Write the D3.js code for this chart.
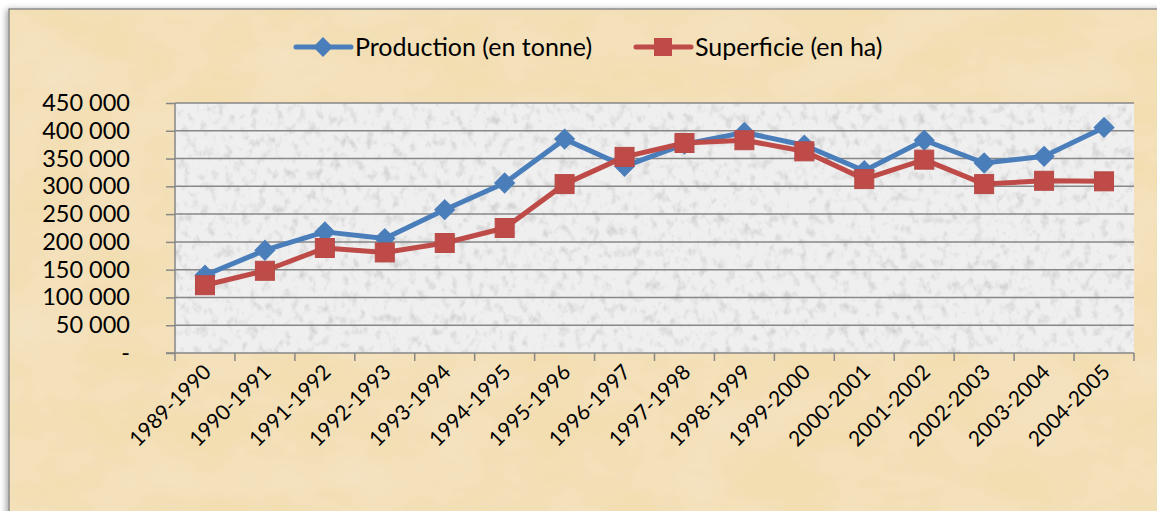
<!DOCTYPE html>
<html>
<head>
<meta charset="utf-8">
<script src="https://cdn.jsdelivr.net/npm/d3@7"></script>
<style>
  body { margin: 0; background: #ffffff; }
  text { font-family: Lato, "Open Sans", sans-serif; fill: #000; }
</style>
</head>
<body>
<div class="container"></div>
<script>
// chart data
var campagnes = ["1989-1990", "1990-1991", "1991-1992", "1992-1993", "1993-1994",
  "1994-1995", "1995-1996", "1996-1997", "1997-1998", "1998-1999", "1999-2000",
  "2000-2001", "2001-2002", "2002-2003", "2003-2004", "2004-2005"];
var production = [140000, 185000, 218000, 206000, 258000, 306000, 385000, 336000,
  376000, 397000, 374000, 328000, 383000, 342000, 354000, 406000];
var superficie = [122000, 148000, 189000, 181000, 198000, 225000, 304000, 353000,
  378000, 383000, 363000, 313000, 348000, 304000, 310000, 309000];
var yTicks = [0, 50000, 100000, 150000, 200000, 250000, 300000, 350000, 400000, 450000];
var seriesNames = ["Production (en tonne)", "Superficie (en ha)"];

var svgWidth = 1157;
var svgHeight = 511;

var margin = { top: 103, right: 23, bottom: 158, left: 175 };
var width = svgWidth - margin.left - margin.right;
var height = svgHeight - margin.top - margin.bottom;

var blue = "#4a7ebb";
var red = "#be4b48";

var svg = d3.select(".container")
  .append("svg")
  .attr("width", svgWidth)
  .attr("height", svgHeight);

// textures
var defs = svg.append("defs");

var paper = defs.append("filter").attr("id", "paper")
  .attr("x", 0).attr("y", 0).attr("width", "100%").attr("height", "100%");
paper.append("feTurbulence").attr("type", "fractalNoise")
  .attr("baseFrequency", "0.012 0.02").attr("numOctaves", 4).attr("seed", 3).attr("result", "n");
paper.append("feColorMatrix").attr("in", "n").attr("type", "matrix")
  .attr("values", "0 0 0 0 0.91  0 0 0 0 0.78  0 0 0 0 0.58  1.1 0 0 0 -0.3").attr("result", "c");
paper.append("feComposite").attr("in", "c").attr("in2", "SourceGraphic").attr("operator", "atop");

var grain = defs.append("filter").attr("id", "grain")
  .attr("x", 0).attr("y", 0).attr("width", "100%").attr("height", "100%");
grain.append("feTurbulence").attr("type", "fractalNoise")
  .attr("baseFrequency", "0.12 0.09").attr("numOctaves", 3).attr("seed", 7).attr("result", "n");
grain.append("feColorMatrix").attr("in", "n").attr("type", "matrix")
  .attr("values", "0 0 0 0 0.6  0 0 0 0 0.6  0 0 0 0 0.6  -2.2 0 0 0 1.1").attr("result", "c");
grain.append("feComposite").attr("in", "c").attr("in2", "SourceGraphic").attr("operator", "atop");

var shadow = defs.append("filter").attr("id", "shadow")
  .attr("x", "-5%").attr("y", "-5%").attr("width", "110%").attr("height", "110%");
shadow.append("feDropShadow").attr("dx", -2).attr("dy", 1).attr("stdDeviation", 3)
  .attr("flood-color", "#000").attr("flood-opacity", 0.35);

// chart frame (parchment)
svg.append("rect")
  .attr("x", 9).attr("y", 9)
  .attr("width", svgWidth + 20).attr("height", svgHeight + 20)
  .attr("fill", "#f3deb1")
  .attr("stroke", "#8c8c8c")
  .attr("stroke-width", 1.5)
  .attr("filter", "url(#shadow)");
svg.append("rect")
  .attr("x", 10).attr("y", 10)
  .attr("width", svgWidth).attr("height", svgHeight)
  .attr("fill", "#f3deb1")
  .attr("filter", "url(#paper)");

var chartGroup = svg.append("g")
  .attr("transform", `translate(${margin.left}, ${margin.top})`);

// plot area (gray grain)
chartGroup.append("rect")
  .attr("width", width).attr("height", height)
  .attr("fill", "#efefef")
  .attr("filter", "url(#grain)");

// scales
var xBand = d3.scaleBand().domain(campagnes).range([0, width]).padding(0);
var xScale = d => xBand(d) + xBand.bandwidth() / 2;

var yLinearScale = d3.scaleLinear()
  .domain([0, 450000])
  .range([height, 0]);

var fr = d3.formatLocale({ decimal: ",", thousands: " ", grouping: [3], currency: ["", " €"] });
var fmt = fr.format(",");

// gridlines
chartGroup.append("g")
  .selectAll("line")
  .data(yTicks.slice(1))
  .enter()
  .append("line")
  .attr("x1", 0).attr("x2", width)
  .attr("y1", d => yLinearScale(d)).attr("y2", d => yLinearScale(d))
  .attr("stroke", "#878787")
  .attr("stroke-width", 1.5);

// y axis
var leftAxis = d3.axisLeft(yLinearScale)
  .tickValues(yTicks)
  .tickSize(9)
  .tickPadding(36)
  .tickFormat(d => d === 0 ? "-" : fmt(d));

var yAxis = chartGroup.append("g").call(leftAxis);
yAxis.select(".domain").attr("stroke", "#878787").attr("stroke-width", 1.5).attr("d", `M0,0V${height}`);
yAxis.selectAll(".tick line").attr("stroke", "#878787").attr("stroke-width", 1.5);
yAxis.selectAll(".tick text")
  .style("font-size", "23.5px")
  .style("font-family", "Lato, sans-serif")
  .attr("fill", "#000");

// x axis (ticks between categories)
var edges = campagnes.map(c => xBand(c)).concat([width]);
var xAxis = chartGroup.append("g")
  .attr("transform", `translate(0, ${height})`);
xAxis.append("line")
  .attr("x1", -9).attr("x2", width)
  .attr("stroke", "#878787").attr("stroke-width", 1.5);
xAxis.selectAll("line.tk")
  .data(edges)
  .enter()
  .append("line")
  .attr("class", "tk")
  .attr("x1", d => d).attr("x2", d => d)
  .attr("y1", 0).attr("y2", 8)
  .attr("stroke", "#878787").attr("stroke-width", 1.5);
xAxis.selectAll("text")
  .data(campagnes)
  .enter()
  .append("text")
  .attr("transform", d => `translate(${xScale(d) - 3}, 10) rotate(-45)`)
  .attr("text-anchor", "end")
  .attr("dy", "0.7em")
  .style("font-size", "21px")
  .text(d => d);

// lines
var line = d3.line()
  .x((d, i) => xScale(campagnes[i]))
  .y(d => yLinearScale(d));

chartGroup.append("path")
  .datum(production)
  .attr("fill", "none")
  .attr("stroke", blue)
  .attr("stroke-width", 5)
  .attr("stroke-linejoin", "round")
  .attr("d", line);

chartGroup.selectAll("path.diamond")
  .data(production)
  .enter()
  .append("path")
  .attr("class", "diamond")
  .attr("d", d3.symbol().type(d3.symbolDiamond2).size(290))
  .attr("transform", (d, i) => `translate(${xScale(campagnes[i])}, ${yLinearScale(d)})`)
  .attr("fill", blue);

chartGroup.append("path")
  .datum(superficie)
  .attr("fill", "none")
  .attr("stroke", red)
  .attr("stroke-width", 5)
  .attr("stroke-linejoin", "round")
  .attr("d", line);

chartGroup.selectAll("rect.sq")
  .data(superficie)
  .enter()
  .append("rect")
  .attr("class", "sq")
  .attr("x", (d, i) => xScale(campagnes[i]) - 9.5)
  .attr("y", d => yLinearScale(d) - 9.5)
  .attr("width", 19).attr("height", 19)
  .attr("fill", red)
  .attr("stroke", "#b84a47")
  .attr("stroke-width", 1);

// legend
var legend = svg.append("g").attr("transform", "translate(0, 47)");
var legendItems = [
  { name: seriesNames[0], color: blue, x: 296, shape: "diamond" },
  { name: seriesNames[1], color: red, x: 636, shape: "square" }
];
legendItems.forEach(function(item) {
  var g = legend.append("g").attr("transform", `translate(${item.x}, 0)`);
  g.append("line").attr("x1", 0).attr("x2", 55)
    .attr("stroke", item.color).attr("stroke-width", 5).attr("stroke-linecap", "round");
  if (item.shape === "diamond") {
    g.append("path")
      .attr("d", d3.symbol().type(d3.symbolDiamond2).size(250))
      .attr("transform", "translate(27, 0)")
      .attr("fill", item.color);
  } else {
    g.append("rect").attr("x", 18).attr("y", -9).attr("width", 18).attr("height", 18)
      .attr("fill", item.color);
  }
  g.append("text").attr("x", 59).attr("dy", "0.35em")
    .style("font-size", "25px")
    .text(item.name);
});
</script>
</body>
</html>
